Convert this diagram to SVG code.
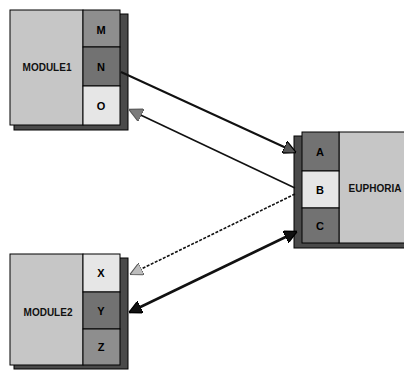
<svg xmlns="http://www.w3.org/2000/svg" width="404" height="372" viewBox="0 0 404 372">
<style>
.shadow{fill:#4a4a4a;stroke:#000;stroke-width:1}
.panel{fill:#c6c6c6;stroke:#000;stroke-width:1}
.light{fill:#e6e6e6;stroke:#000;stroke-width:1}
.mid{fill:#8e8e8e;stroke:#000;stroke-width:1}
.dark{fill:#727272;stroke:#000;stroke-width:1}
.lbl{font-family:"Liberation Sans",Arial,sans-serif;font-weight:bold;font-size:10px;fill:#111;text-anchor:middle;dominant-baseline:central}
.port{font-family:"Liberation Sans",Arial,sans-serif;font-weight:bold;font-size:11px;fill:#000;text-anchor:middle;dominant-baseline:central}
.conn{fill:none;stroke:#111}
</style>
<defs>
<marker id="mDark" viewBox="0 0 10 10" refX="9" refY="5" markerWidth="13" markerHeight="13" markerUnits="userSpaceOnUse" orient="auto-start-reverse"><path d="M0,0 L10,5 L0,10 Z" fill="#555" stroke="#000" stroke-width="1"/></marker>
<marker id="mMid" viewBox="0 0 10 10" refX="9" refY="5" markerWidth="14" markerHeight="14" markerUnits="userSpaceOnUse" orient="auto-start-reverse"><path d="M0,0 L10,5 L0,10 Z" fill="#7c7c7c" stroke="#5a5a5a" stroke-width="0.8"/></marker>
<marker id="mLight" viewBox="0 0 10 10" refX="9" refY="5" markerWidth="13" markerHeight="13" markerUnits="userSpaceOnUse" orient="auto-start-reverse"><path d="M0,0 L10,5 L0,10 Z" fill="#bdbdbd" stroke="#555" stroke-width="0.8"/></marker>
<marker id="mBlack" viewBox="0 0 10 10" refX="9" refY="5" markerWidth="13" markerHeight="13" markerUnits="userSpaceOnUse" orient="auto-start-reverse"><path d="M0,0 L10,5 L0,10 Z" fill="#111" stroke="#000" stroke-width="1"/></marker>
</defs>

<g id="module1">
<rect class="shadow" x="14" y="14" width="114" height="116"/>
<rect class="panel" x="10" y="10" width="73" height="115"/>
<text class="lbl" x="47" y="67">MODULE1</text>
<rect class="mid" x="83" y="10" width="37" height="37"/>
<text class="port" x="101" y="30">M</text>
<rect class="dark" x="83" y="47" width="37" height="39"/>
<text class="port" x="101" y="67">N</text>
<rect class="light" x="83" y="86" width="37" height="39"/>
<text class="port" x="101" y="106">O</text>
</g>

<g id="euphoria">
<rect class="shadow" x="294" y="136" width="112" height="112"/>
<rect class="panel" x="339" y="132" width="68" height="111"/>
<text class="lbl" x="375" y="188">EUPHORIA</text>
<rect class="dark" x="302" y="132" width="37" height="39"/>
<text class="port" x="320" y="152">A</text>
<rect class="light" x="302" y="171" width="37" height="37"/>
<text class="port" x="320" y="190">B</text>
<rect class="dark" x="302" y="208" width="37" height="35"/>
<text class="port" x="320" y="226">C</text>
</g>

<g id="module2">
<rect class="shadow" x="14" y="258" width="114" height="111"/>
<rect class="panel" x="10" y="254" width="73" height="111"/>
<text class="lbl" x="48" y="312">MODULE2</text>
<rect class="light" x="83" y="254" width="37" height="38"/>
<text class="port" x="101" y="273">X</text>
<rect class="dark" x="83" y="292" width="37" height="37"/>
<text class="port" x="101" y="311">Y</text>
<rect class="mid" x="83" y="329" width="37" height="36"/>
<text class="port" x="101" y="347">Z</text>
</g>

<g id="connectors">
<path class="conn" d="M121,72 L295,152" stroke-width="2" marker-end="url(#mDark)"/>
<path class="conn" d="M295,188 L130,110" stroke-width="1.6" marker-end="url(#mMid)"/>
<path class="conn" d="M295,194 L131,274" stroke-width="1.6" stroke-dasharray="3,1.5" marker-end="url(#mLight)"/>
<path class="conn" d="M130,312 L296,232" stroke-width="2.5" marker-start="url(#mBlack)" marker-end="url(#mBlack)"/>
</g>
</svg>
